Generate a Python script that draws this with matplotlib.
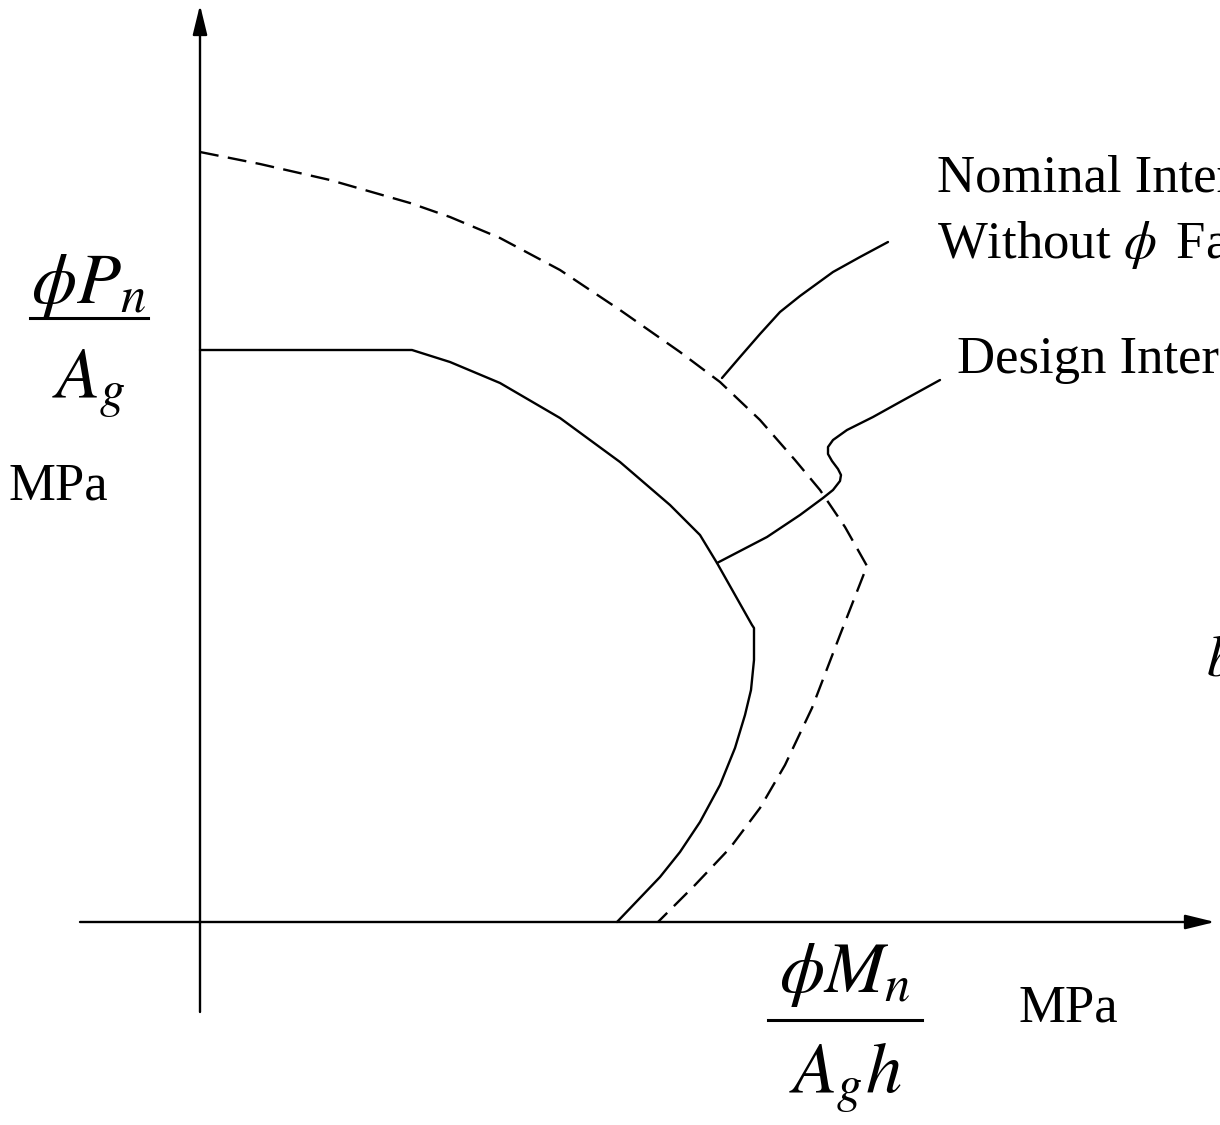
import matplotlib
matplotlib.use("Agg")
import matplotlib.pyplot as plt
from matplotlib.lines import Line2D

plt.rcParams["font.family"] = ["Liberation Serif", "DejaVu Serif"]
plt.rcParams["mathtext.fontset"] = "stix"

# Interaction diagram outlines (schematic units, origin at the axes crossing)
nominal_x = [0.00, 0.60, 1.30, 2.10, 2.50, 3.00, 3.60, 4.20, 4.80, 5.20,
             5.60, 5.95, 6.20, 6.45, 6.67,
             6.40, 6.12, 5.85, 5.60, 5.30, 4.95, 4.58]
nominal_y = [7.70, 7.58, 7.42, 7.19, 7.05, 6.84, 6.52, 6.12, 5.70, 5.40,
             5.02, 4.62, 4.32, 3.95, 3.56,
             2.87, 2.14, 1.57, 1.14, 0.74, 0.37, 0.00]

design_x = [0.00, 2.12, 2.50, 3.00, 3.60, 4.20, 4.70, 5.00, 5.17, 5.52,
            5.54, 5.54, 5.51, 5.45, 5.35, 5.20, 5.00, 4.80, 4.60, 4.17]
design_y = [5.72, 5.72, 5.60, 5.39, 5.04, 4.60, 4.17, 3.87, 3.59, 2.97,
            2.94, 2.62, 2.32, 2.07, 1.74, 1.37, 1.00, 0.70, 0.45, 0.00]

# Leader lines from the labels to the curves
lead_nom_x = [5.22, 5.40, 5.60, 5.80, 6.00, 6.33, 6.60, 6.88]
lead_nom_y = [5.44, 5.65, 5.88, 6.10, 6.26, 6.50, 6.65, 6.80]
lead_des_x = [5.17, 5.67, 6.00, 6.23, 6.33, 6.40, 6.41, 6.38, 6.32, 6.28,
              6.28, 6.33, 6.47, 6.73, 7.00, 7.40]
lead_des_y = [3.59, 3.85, 4.07, 4.24, 4.32, 4.41, 4.47, 4.53, 4.61, 4.68,
              4.75, 4.82, 4.92, 5.05, 5.20, 5.42]

fig = plt.figure(figsize=(12.2, 11.25), dpi=100)
ax = fig.add_axes([0, 0, 1, 1])
ax.set_xlim(-2.0, 10.2)
ax.set_ylim(-2.03, 9.22)
ax.axis("off")

lw = 1.7
arrow = dict(arrowstyle="-|>,head_length=0.9,head_width=0.22",
             mutation_scale=20, lw=lw, color="black",
             shrinkA=0, shrinkB=0)
ax.annotate("", xy=(0.0, 9.17), xytext=(0.0, -0.90), arrowprops=arrow)
ax.annotate("", xy=(10.15, 0.0), xytext=(-1.20, 0.0), arrowprops=arrow)

ax.plot(nominal_x, nominal_y, color="black", lw=lw, dashes=(8, 4))
for xs, ys in [(design_x, design_y), (lead_nom_x, lead_nom_y),
               (lead_des_x, lead_des_y)]:
    ax.plot(xs, ys, color="black", lw=lw, solid_joinstyle="round",
            solid_capstyle="round")

txt = dict(fontsize=38, va="baseline", ha="left")
ax.text(7.37, 7.30, "Nominal Interaction Diagram", **txt)
ax.text(7.37, 6.64, r"Without $\phi\,$ Factors", **txt)
ax.text(7.57, 5.49, "Design Interaction Diagram", **txt)
ax.text(10.06, 2.46, r"$b$", fontsize=42, va="baseline", ha="left")

# Axis quantities written as fractions
frac = dict(fontsize=52, va="baseline", ha="center")
ax.text(-1.11, 6.19, r"$\phi P_n$", **frac)
ax.text(-1.11, 5.24, r"$A_g$", **frac)
ax.add_line(Line2D([-1.70, -0.52], [6.04, 6.04], color="black", lw=2.2))

ax.text(6.45, -0.70, r"$\phi M_n$", **frac)
ax.text(6.45, -1.71, r"$A_g h$", **frac)
ax.add_line(Line2D([5.68, 7.22], [-0.98, -0.98], color="black", lw=2.2))

ax.text(-1.92, 4.22, "MPa", fontsize=38, va="baseline", ha="left")
ax.text(8.18, -1.00, "MPa", fontsize=38, va="baseline", ha="left")

fig.savefig("out.png", dpi=100)
